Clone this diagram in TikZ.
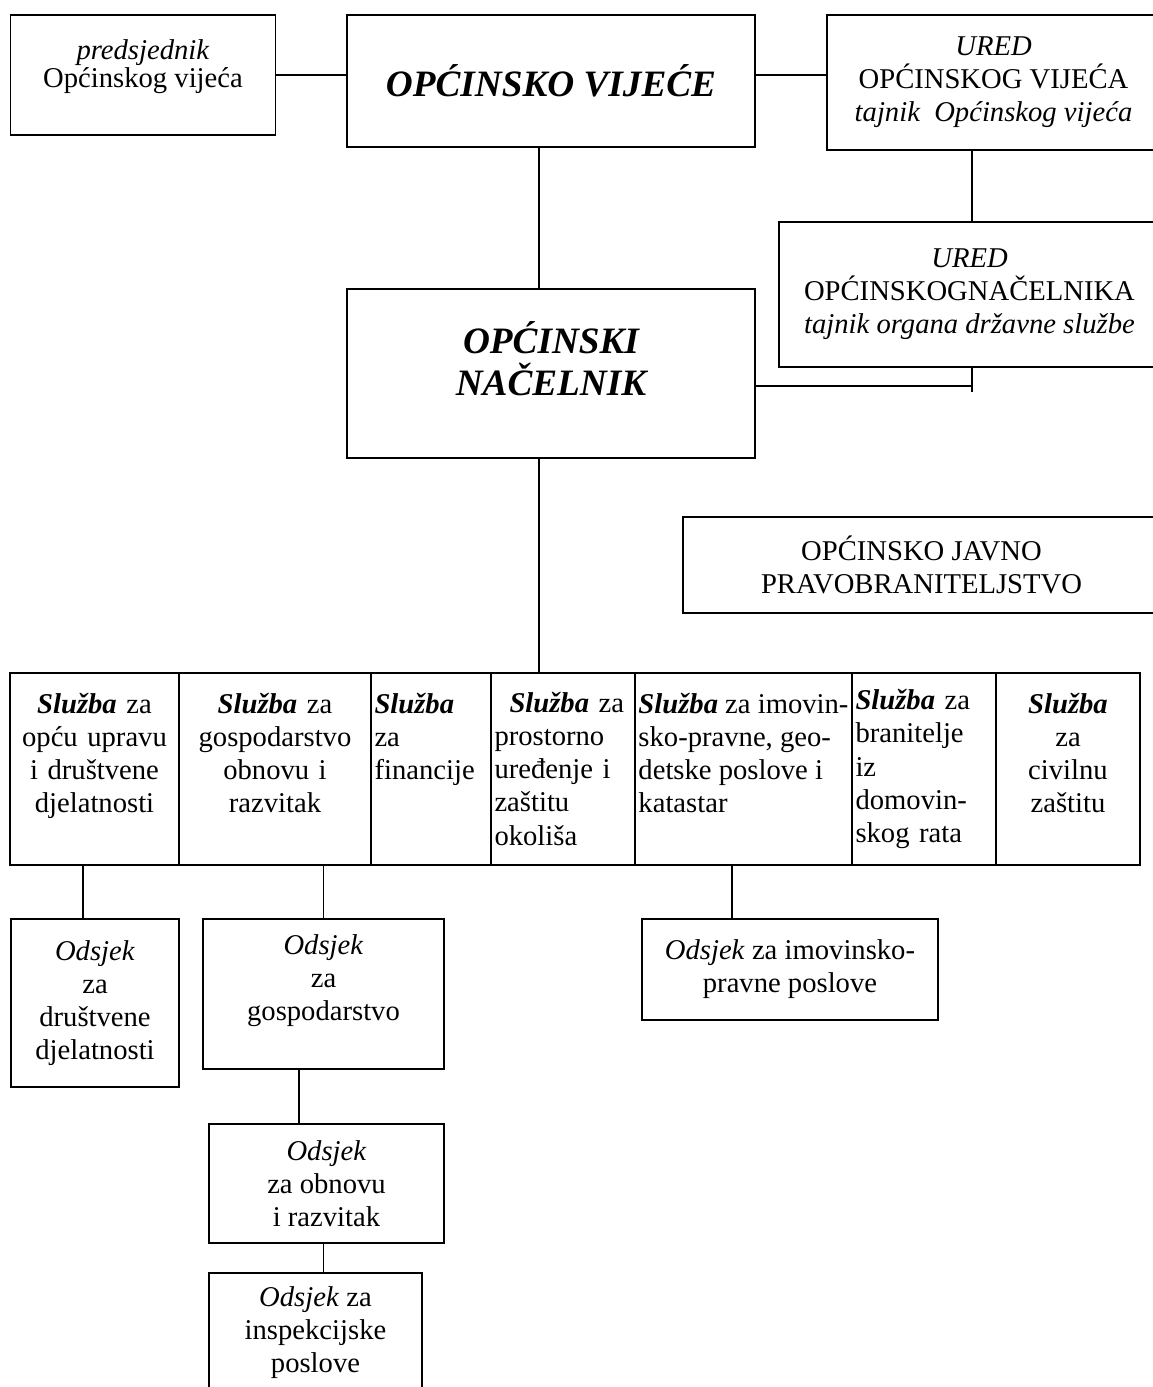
\documentclass[tikz,border=0pt]{standalone}
\usepackage{fontspec}
\setmainfont{Liberation Serif}
\usetikzlibrary{calc}

\newcommand{\bodysize}{\fontsize{16.3pt}{18.8pt}\selectfont}
\newcommand{\headsize}{\fontsize{21.2pt}{24.4pt}\selectfont\bfseries\itshape}
\newcommand{\sluzba}{\textbf{\textit{Služba}}}

\begin{document}
\begin{tikzpicture}[x=0.02cm, y=-0.02cm, line width=0.9pt,
    unit-node/.style={rectangle, draw=black, align=center, inner sep=2pt, font=\bodysize},
    head-node/.style={rectangle, draw=black, align=center, inner sep=2pt, font=\headsize},
    cell-node/.style={rectangle, draw=black, inner xsep=2pt, inner ysep=0pt, minimum height=3.84cm, font=\bodysize}]
    \useasboundingbox (0,0) rectangle (1153,1387);
    \node[unit-node, minimum width=5.3cm, minimum height=2.4cm] (pred) at (143,75) {\textit{predsjednik}\\[-0.1cm] Općinskog vijeća\\[-0.2cm] \mbox{}};
    \node[head-node, minimum width=8.16cm, minimum height=2.64cm] (ov) at (551,81) {OPĆINSKO VIJEĆE};
    \node[unit-node, minimum width=6.66cm, minimum height=2.7cm] (uredov) at (993.5,82.5) {\textit{URED}\\ OPĆINSKOG VIJEĆA\\ \textit{tajnik\ \ Općinskog vijeća}};
    \node[unit-node, minimum width=7.62cm, minimum height=2.9cm] (uredon) at (969.5,294.5) {\textit{URED}\\ OPĆINSKOGNAČELNIKA\\ \textit{tajnik organa državne službe}};
    \node[head-node, minimum width=8.16cm, minimum height=3.38cm] (nac) at (551,373.5) {OPĆINSKI\\ NAČELNIK\\[-0.26cm] \mbox{}};
    \node[unit-node, minimum width=9.54cm, minimum height=1.92cm] (pravo) at (921.5,565) {OPĆINSKO JAVNO\\ PRAVOBRANITELJSTVO};
    \node[cell-node, minimum width=3.38cm, text width=3.24cm, align=center] (s1) at (94.5,769) {\sluzba{} za\\ opću upravu\\ i društvene\\ djelatnosti\\ \mbox{}};
    \node[cell-node, minimum width=3.84cm, text width=3.7cm, align=center] (s2) at (275,769) {\sluzba{} za\\ gospodarstvo\\ obnovu i\\ razvitak\\ \mbox{}};
    \node[cell-node, minimum width=2.4cm, text width=2.26cm, align=left] (s3) at (431,769) {\sluzba\\ za\\ financije\\ \mbox{}\\ \mbox{}};
    \node[cell-node, minimum width=2.88cm, text width=2.74cm, align=left] (s4) at (563,769) {\hspace*{0.3cm}\sluzba{} za\\ prostorno\\ uređenje i\\ zaštitu\\ okoliša};
    \node[cell-node, minimum width=4.34cm, align=left] (s5) at (743.5,769) {\sluzba{} za imovin-\\ sko-pravne, geo-\\ detske poslove i\\ katastar\\ \mbox{}};
    \node[cell-node, minimum width=2.88cm, text width=2.74cm, align=left] (s6) at (924,769) {\sluzba{} za\\ branitelje\\ iz\\ domovin-\\ skog rata};
    \node[cell-node, minimum width=2.88cm, text width=2.74cm, align=center] (s7) at (1068,769) {\sluzba\\ za\\ civilnu\\ zaštitu\\ \mbox{}};
    \node[unit-node, minimum width=3.36cm, minimum height=3.36cm] (od1) at (95,1003) {\textit{Odsjek}\\ za\\ društvene\\ djelatnosti};
    \node[unit-node, minimum width=4.82cm, minimum height=3cm] (od2) at (323.5,994) {\textit{Odsjek}\\ za\\ gospodarstvo\\ \mbox{}};
    \node[unit-node, minimum width=4.7cm, minimum height=2.38cm] (od3) at (326.5,1183.5) {\textit{Odsjek}\\ za obnovu\\ i razvitak};
    \node[unit-node, minimum width=4.26cm, minimum height=2.4cm] (od4) at (315.5,1333) {\textit{Odsjek} za\\ inspekcijske\\ poslove};
    \node[unit-node, minimum width=5.92cm, minimum height=2.02cm] (od5) at (790,969.5) {\textit{Odsjek} za imovinsko-\\ pravne poslove};
    \coordinate (spine) at (539,0);
    \coordinate (ured-axis) at (972,0);
    \coordinate (tap) at (972,386);
    \draw (pred.east) -- (pred.east -| ov.west);
    \draw (ov.east |- pred.east) -- (uredov.west |- pred.east);
    \draw (ov.south -| spine) -- (nac.north -| spine);
    \draw (uredov.south -| ured-axis) -- (uredon.north -| ured-axis);
    \draw (uredon.south -| tap) -- ++(0,24);
    \draw (tap) -- (tap -| nac.east);
    \draw (nac.south -| spine) -- (s4.north -| spine);
    \draw ([xshift=-0.24cm]od1.north) -- ([xshift=-0.24cm]od1.north |- s1.south);
    \draw (od2.north) -- (od2.north |- s2.south);
    \draw ([xshift=-0.49cm]od2.south) -- ([xshift=-0.49cm]od2.south |- od3.north);
    \draw (od2.north |- od3.south) -- (od2.north |- od4.north);
    \draw ([xshift=-0.23cm]s5.south) -- ([xshift=-0.23cm]s5.south |- od5.north);
\end{tikzpicture}
\end{document}
